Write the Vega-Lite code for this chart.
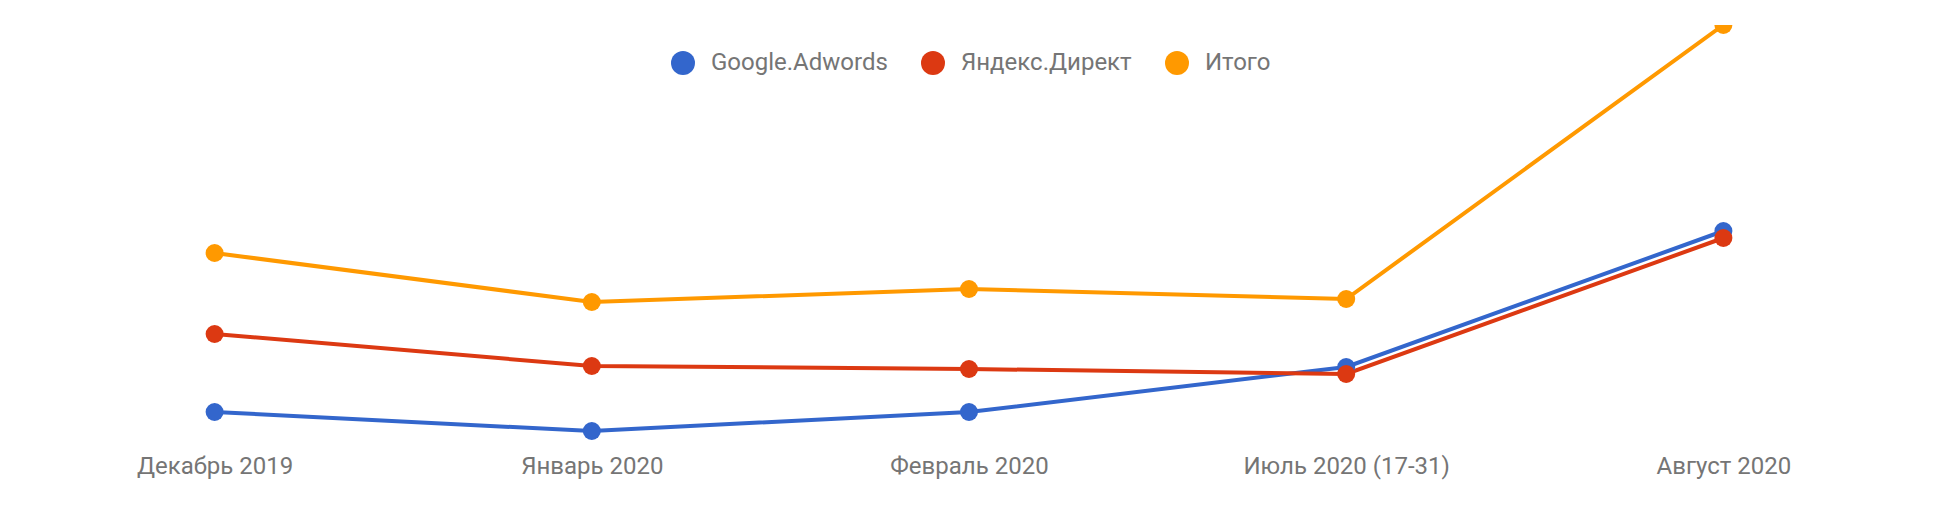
{
  "$schema": "https://vega.github.io/schema/vega-lite/v6.json",
  "autosize": "none",
  "width": 1886,
  "height": 420,
  "padding": {"left": 26, "top": 25, "right": 26, "bottom": 61},
  "background": "#ffffff",
  "config": {
    "view": {"stroke": null},
    "font": "Roboto",
    "axis": {"labelFont": "Roboto", "labelFontSize": 24, "labelColor": "#757575", "labelLimit": 0},
    "legend": {"labelFont": "Roboto", "labelFontSize": 24, "labelColor": "#757575", "labelLimit": 0}
  },
  "data": {
    "values": [
      {"month": "Декабрь 2019", "series": "Google.Adwords", "value": 33},
      {"month": "Январь 2020", "series": "Google.Adwords", "value": 14},
      {"month": "Февраль 2020", "series": "Google.Adwords", "value": 33},
      {"month": "Июль 2020 (17-31)", "series": "Google.Adwords", "value": 78},
      {"month": "Август 2020", "series": "Google.Adwords", "value": 214},
      {"month": "Декабрь 2019", "series": "Яндекс.Директ", "value": 111},
      {"month": "Январь 2020", "series": "Яндекс.Директ", "value": 79},
      {"month": "Февраль 2020", "series": "Яндекс.Директ", "value": 76},
      {"month": "Июль 2020 (17-31)", "series": "Яндекс.Директ", "value": 71},
      {"month": "Август 2020", "series": "Яндекс.Директ", "value": 207},
      {"month": "Декабрь 2019", "series": "Итого", "value": 192},
      {"month": "Январь 2020", "series": "Итого", "value": 143},
      {"month": "Февраль 2020", "series": "Итого", "value": 156},
      {"month": "Июль 2020 (17-31)", "series": "Итого", "value": 146},
      {"month": "Август 2020", "series": "Итого", "value": 420}
    ]
  },
  "mark": {
    "type": "line",
    "strokeWidth": 4,
    "clip": true,
    "point": {"filled": true, "size": 324, "opacity": 1}
  },
  "encoding": {
    "x": {
      "field": "month",
      "type": "nominal",
      "sort": null,
      "scale": {"type": "point", "padding": 0.5},
      "axis": {"title": null, "domain": false, "ticks": false, "tickSize": 0, "grid": false, "labelPadding": 9, "labelAngle": 0}
    },
    "y": {
      "field": "value",
      "type": "quantitative",
      "scale": {"domain": [0, 420], "nice": false, "zero": true},
      "axis": null
    },
    "color": {
      "field": "series",
      "type": "nominal",
      "sort": ["Google.Adwords", "Яндекс.Директ", "Итого"],
      "scale": {"domain": ["Google.Adwords", "Яндекс.Директ", "Итого"], "range": ["#3366cc", "#dc3912", "#ff9900"]},
      "legend": {
        "title": null,
        "orient": "none",
        "direction": "horizontal",
        "legendX": 645,
        "legendY": 26,
        "padding": 0,
        "symbolType": "circle",
        "symbolSize": 576,
        "symbolStrokeWidth": 0,
        "labelOffset": 16,
        "columnPadding": 33
      }
    }
  }
}
